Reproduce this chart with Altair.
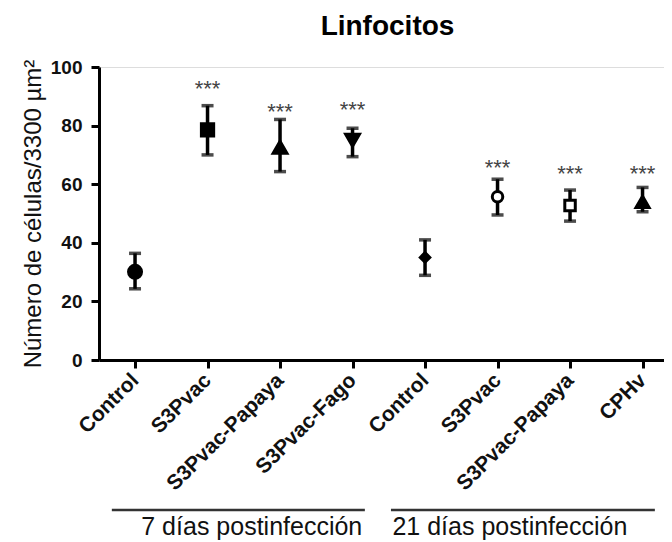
import altair as alt
import pandas as pd

# ---- data ----
positions = [1, 2, 3, 4, 5, 6, 7, 8]
labels = ["Control", "S3Pvac", "S3Pvac-Papaya", "S3Pvac-Fago",
          "Control", "S3Pvac", "S3Pvac-Papaya", "CPHv"]
means = [30.1, 78.5, 72.6, 75.0, 35.0, 55.7, 52.7, 54.0]
upper = [36.4, 86.8, 82.1, 79.1, 41.0, 61.7, 58.0, 58.9]
lower = [24.3, 70.0, 64.3, 69.4, 28.9, 49.5, 47.4, 50.6]
shapes = ["circle", "square", "triangle-up", "triangle-down",
          "diamond", "circle", "square", "triangle-up"]
fills = ["black", "black", "black", "black", "black", "white", "white", "black"]
sizes = [170, 150, 190, 190, 90, 110, 110, 170]
star_pos = [2, 3, 4, 6, 7, 8]
star_y = [93.0, 85.3, 86.0, 66.2, 64.0, 64.0]

group_labels = ["7 días postinfección", "21 días postinfección"]
group_start = [0.68, 4.53]
group_end = [4.17, 8.17]
group_text_x = [2.61, 6.17]

df = pd.DataFrame({"pos": positions, "label": labels, "mean": means,
                   "upper": upper, "lower": lower, "shape": shapes,
                   "fill": fills, "size": sizes})
stars = pd.DataFrame({"pos": star_pos, "y": star_y, "t": ["***"] * len(star_pos)})
groups = pd.DataFrame({"label": group_labels, "start": group_start,
                       "end": group_end, "tx": group_text_x})

FONT = "Liberation Sans"
label_expr = "[''," + ",".join("'" + l + "'" for l in labels) + "][datum.value]"

xscale = alt.Scale(domain=[0.503, 8.296], nice=False, zero=False)
yscale = alt.Scale(domain=[0, 100], nice=False)

x_enc = alt.X("pos:Q", scale=xscale, axis=alt.Axis(
    values=positions, labelExpr=label_expr, title=None, grid=False,
    labelAngle=-45, labelAlign="right", labelBaseline="middle",
    labelOverlap=False, labelBound=False, labelFlush=False,
    labelFont=FONT, labelFontSize=21, labelFontWeight="bold", labelColor="#111111",
    labelPadding=9, tickSize=8, tickWidth=3, tickColor="black",
    domainWidth=3, domainColor="black"))
y_enc = alt.Y("mean:Q", scale=yscale, axis=alt.Axis(
    values=[0, 20, 40, 60, 80, 100], title="Número de células/3300 µm²",
    grid=False, labelFont=FONT, labelFontSize=19, labelFontWeight="bold",
    labelColor="#111111", labelPadding=9, tickSize=8, tickWidth=3, tickColor="black",
    domainWidth=3, domainColor="black", labelOverlap=False,
    titleFont=FONT, titleFontSize=24, titleFontWeight="normal", titleColor="#111111",
    titleX=-59, titleY=146.5, titleAngle=-90, titleAlign="center",
    titleBaseline="alphabetic"))

base = alt.Chart(df)

bars = base.mark_rule(color="black", strokeWidth=3.5).encode(
    x=x_enc, y=alt.Y("lower:Q", scale=yscale), y2="upper:Q")
cap_hi = base.mark_tick(color="black", orient="horizontal", size=12, thickness=3.5).encode(
    x=alt.X("pos:Q", scale=xscale), y=alt.Y("upper:Q", scale=yscale))
cap_lo = base.mark_tick(color="black", orient="horizontal", size=12, thickness=3.5).encode(
    x=alt.X("pos:Q", scale=xscale), y=alt.Y("lower:Q", scale=yscale))
pts = base.mark_point(stroke="black", strokeWidth=3, opacity=1, filled=False).encode(
    x=alt.X("pos:Q", scale=xscale), y=y_enc,
    shape=alt.Shape("shape:N", scale=None),
    fill=alt.Fill("fill:N", scale=None),
    size=alt.Size("size:Q", scale=None))

star_txt = alt.Chart(stars).mark_text(
    font=FONT, fontSize=22, color="#444444", baseline="alphabetic", dy=8.5
).encode(x=alt.X("pos:Q", scale=xscale), y=alt.Y("y:Q", scale=yscale), text="t:N")

g_lines = alt.Chart(groups).mark_rule(color="#333333", strokeWidth=2.5).encode(
    x=alt.X("start:Q", scale=xscale), x2="end:Q", y=alt.value(443))
g_text = alt.Chart(groups).mark_text(
    font=FONT, fontSize=25, color="#111111", baseline="alphabetic", align="center"
).encode(x=alt.X("tx:Q", scale=xscale), y=alt.value(468), text="label:N")

chart = alt.layer(bars, cap_hi, cap_lo, pts, star_txt, g_lines, g_text).properties(
    width=565, height=293,
    autosize=alt.AutoSizeParams(type="none"),
    padding={"left": 91, "top": 59, "right": 0, "bottom": 182},
    title=alt.TitleParams("Linfocitos", font=FONT, fontSize=28, fontWeight="bold",
                          color="black", anchor="middle", dx=6, offset=17),
).configure_view(stroke=None).configure(background="white")

chart.save("out.html", embed_options={"renderer": "svg", "actions": False})
